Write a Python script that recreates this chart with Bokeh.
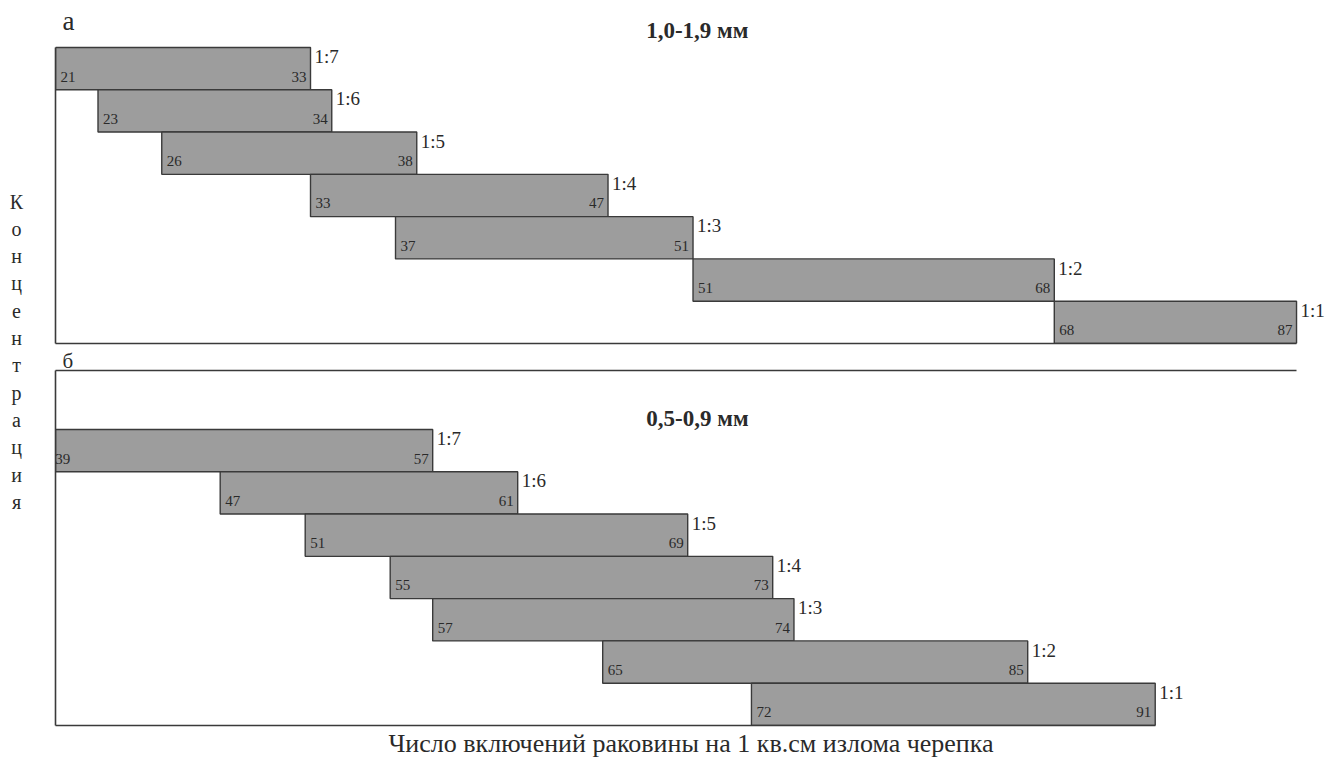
from bokeh.plotting import figure
from bokeh.models import Range1d, FixedTicker, LabelSet, Label, ColumnDataSource, LinearAxis, Title
from bokeh.layouts import row, column
from bokeh.embed import file_html
from bokeh.resources import INLINE

# ---- data ----
ratios = ["1:7", "1:6", "1:5", "1:4", "1:3", "1:2", "1:1"]
rank = [7, 6, 5, 4, 3, 2, 1]
top_start = [21, 23, 26, 33, 37, 51, 68]
top_end = [33, 34, 38, 47, 51, 68, 87]
bot_start = [39, 47, 51, 55, 57, 65, 72]
bot_end = [57, 61, 69, 73, 74, 85, 91]
top_title = "1,0-1,9 мм"
bot_title = "0,5-0,9 мм"
x_title = "Число включений раковины на 1 кв.см излома черепка"
y_title = "Концентрация"

FONT = "Liberation Serif"
BAR_FILL = "#9d9d9d"
BAR_LINE = "#3a3a3a"
AX_COL = "#3a3a3a"
TXT = "#2a2a2a"

# axis extents (data units)
TOP_AXIS = (21, 79.4)
BOT_AXIS = (39.25, 97.65)
SPAN = 59.81  # x-range width shown in each frame


def bare_axis(ax, bounds="auto"):
    ax.ticker = FixedTicker(ticks=[])
    ax.major_tick_line_color = None
    ax.minor_tick_line_color = None
    ax.major_label_text_font_size = "0px"
    ax.major_tick_out = 0
    ax.major_tick_in = 0
    ax.major_label_standoff = 0
    ax.axis_line_color = AX_COL
    ax.axis_line_width = 1.6
    ax.bounds = bounds


def panel(starts, ends, axis_ext, yr, height, mb_top, mb_bottom):
    xr = (axis_ext[0], axis_ext[0] + SPAN)
    p = figure(width=1296, height=height, x_range=Range1d(*xr), y_range=Range1d(*yr),
               output_backend="svg", toolbar_location=None,
               min_border_left=25, min_border_right=0,
               min_border_top=mb_top, min_border_bottom=mb_bottom)
    p.grid.visible = False
    p.outline_line_color = None
    for ax in p.xaxis + p.yaxis:
        bare_axis(ax)
    xmax = axis_ext[1]
    rx = [min(e, xmax) for e in ends]
    src = ColumnDataSource(dict(
        y=rank, left=starts, right=rx, ratio=ratios,
        s=[str(v) for v in starts], e=[str(v) for v in ends]))
    p.hbar(y="y", left="left", right="right", height=1, source=src,
           fill_color=BAR_FILL, line_color=BAR_LINE, line_width=1.4)
    common = dict(source=src, text_font=FONT, text_color=TXT, text_baseline="middle")
    p.add_layout(LabelSet(x="left", y="y", text="s", x_offset=5, y_offset=-8,
                          text_align="left", text_font_size="15px", **common))
    p.add_layout(LabelSet(x="right", y="y", text="e", x_offset=-4, y_offset=-8,
                          text_align="right", text_font_size="15px", **common))
    p.add_layout(LabelSet(x="right", y="y", text="ratio", x_offset=4, y_offset=12,
                          text_align="left", text_font_size="19px", **common))
    return p


# top panel: frame from canvas top to the bottom line
p1 = panel(top_start, top_end, TOP_AXIS, (0.5, 8.611), 345, 0, 2)
p1.xaxis[0].bounds = TOP_AXIS
p1.yaxis[0].bounds = (0.5, 7.5)
p1.add_layout(Label(x=51.2, y=7.90, text=top_title, text_font=FONT, text_font_size="23px",
                    text_font_style="bold", text_align="center", text_baseline="middle",
                    text_color=TXT))
p1.add_layout(Label(x=21.33, y=8.12, text="а", text_font=FONT, text_font_size="27px",
                    text_align="left", text_baseline="middle", text_color=TXT))

# bottom panel
p2 = panel(bot_start, bot_end, BOT_AXIS, (0.5, 8.894), 417, 25, 37)
p2.xaxis[0].bounds = (BOT_AXIS[0], max(bot_end))
top_ax = LinearAxis()
bare_axis(top_ax, BOT_AXIS)
p2.add_layout(top_ax, "above")
p2.add_layout(Title(text="б", align="left", offset=7, standoff=-5, text_font=FONT,
                    text_font_size="21px", text_font_style="normal", text_color=TXT), "above")
p2.add_layout(Title(text=x_title, align="center", standoff=3, text_font=FONT,
                    text_font_size="26px", text_font_style="normal", text_color=TXT), "below")
p2.add_layout(Label(x=69.46, y=7.76, text=bot_title, text_font=FONT, text_font_size="23px",
                    text_font_style="bold", text_align="center", text_baseline="middle",
                    text_color=TXT))

# vertical stacked y title
letters = list(y_title)
pl = figure(width=30, height=762, x_range=Range1d(0, 30), y_range=Range1d(762, 0),
            output_backend="svg", toolbar_location=None,
            min_border_left=0, min_border_right=0, min_border_top=0, min_border_bottom=0)
pl.axis.visible = False
pl.grid.visible = False
pl.outline_line_color = None
lsrc = ColumnDataSource(dict(t=letters, x=[16] * len(letters),
                             y=[201 + 27.3 * i for i in range(len(letters))]))
pl.text(x="x", y="y", text="t", source=lsrc, text_font=FONT, text_font_size="20px",
        text_align="center", text_baseline="middle", text_color=TXT)

layout = row(pl, column(p1, p2))
open("out.html", "w").write(file_html(layout, INLINE))
